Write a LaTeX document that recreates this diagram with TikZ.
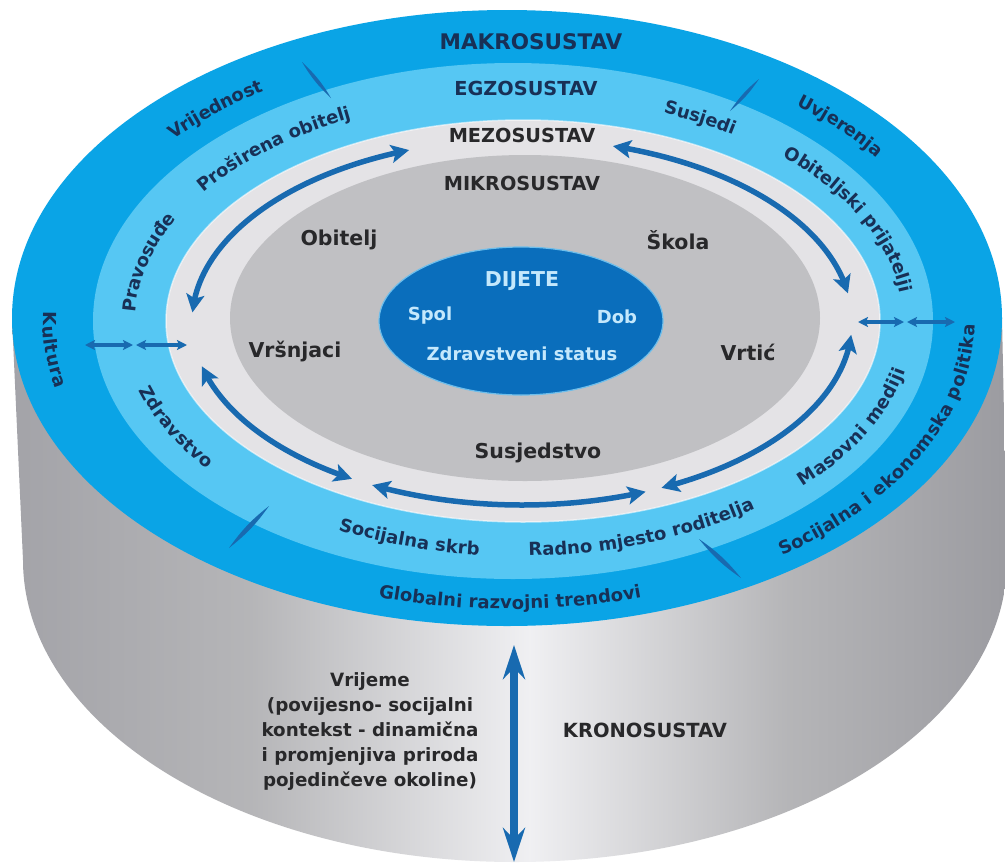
\documentclass[tikz,border=0pt]{standalone}
\usepackage{fontspec}
\setmainfont{DejaVu Sans}
\usetikzlibrary{arrows.meta,bending,decorations.text}

\definecolor{makro}{RGB}{10,164,230}
\definecolor{egzo}{RGB}{86,199,243}
\definecolor{mezo}{RGB}{228,227,230}
\definecolor{mikro}{RGB}{192,192,195}
\definecolor{dijete}{RGB}{10,110,188}
\definecolor{dijrim}{RGB}{110,190,235}
\definecolor{arrowc}{RGB}{24,106,176}
\definecolor{navy}{RGB}{24,48,86}
\definecolor{darktxt}{RGB}{40,40,42}
\definecolor{dijtxt}{RGB}{196,232,252}

\pgfdeclarehorizontalshading{cylshade}{100bp}{rgb(0bp)=(0.64,0.64,0.66); rgb(25bp)=(0.64,0.64,0.66); rgb(37bp)=(0.71,0.71,0.72); rgb(51bp)=(0.94,0.94,0.95); rgb(64bp)=(0.71,0.71,0.72); rgb(75bp)=(0.61,0.61,0.63); rgb(100bp)=(0.61,0.61,0.63)}

\newcommand\bandfont{\bfseries\fontsize{18}{21}\selectfont\color{navy}}

\begin{document}
\begin{tikzpicture}[x=1pt,y=-1pt,
  bigarr/.style={draw=arrowc, line width=5.5pt, {Stealth[length=18pt,width=18pt,inset=4pt]}-{Stealth[length=18pt,width=18pt,inset=4pt]}},
  spindle/.style={draw=arrowc, line width=3.5pt, {Stealth[length=10pt,width=10pt,inset=2pt]}-{Stealth[length=10pt,width=10pt,inset=2pt]}},
  leaf/.style={fill=arrowc},
  vertarr/.style={draw=arrowc, line width=8pt, {Stealth[length=34pt,width=22pt]}-{Stealth[length=34pt,width=22pt]}},
  bandtext/.style n args={2}{decorate, decoration={text along path, text align=center, raise=#2, text={|\bandfont|#1}}},
  head/.style={inner sep=0pt, anchor=center},
  mikrolab/.style={inner sep=0pt, anchor=center, text=darktxt, font=\bfseries\fontsize{20.5}{24}\selectfont},
  dijlab/.style={inner sep=0pt, anchor=center, text=dijtxt, font=\bfseries\fontsize{18}{22}\selectfont}
]
\useasboundingbox (0,0) rectangle (1005,863);
\clip (0,0) rectangle (1005,863);
\fill[white] (0,0) rectangle (1005,863);

% cylinder side
\shade[shading=cylshade] (12,318) -- (23,560) arc[start angle=180, end angle=360, x radius=492pt, y radius=302pt] -- (1002,318) -- cycle;

% rings
\fill[makro] (507,318) ellipse [x radius=495pt, y radius=308pt];
\fill[egzo] (513,321) ellipse [x radius=420pt, y radius=258pt];
\filldraw[fill=mezo, draw=white, draw opacity=0.55, line width=1.5pt] (523,321) ellipse [x radius=357pt, y radius=201pt];
\fill[mikro] (525,318) ellipse [x radius=295pt, y radius=163pt];
\filldraw[fill=dijete, draw=dijrim, line width=1.2pt] (521,321) ellipse [x radius=142pt, y radius=74pt];

% mezo arrows
\coordinate (Ac) at (522,322);
\path (Ac) ++(177:330pt and 183pt) coordinate (m1);
\path (Ac) ++(74:330pt and 183pt) coordinate (m2);
\path (Ac) ++(194:330pt and 183pt) coordinate (m3);
\path (Ac) ++(243:330pt and 183pt) coordinate (m4);
\path (Ac) ++(295:330pt and 183pt) coordinate (m5);
\draw[bigarr] (m1) arc[start angle=177, end angle=110, x radius=330pt, y radius=183pt];
\draw[bigarr] (m2) arc[start angle=74, end angle=9, x radius=330pt, y radius=183pt];
\draw[bigarr] (m3) arc[start angle=194, end angle=239, x radius=330pt, y radius=183pt];
\draw[bigarr] (m4) arc[start angle=243, end angle=292, x radius=330pt, y radius=183pt];
\draw[bigarr] (m5) arc[start angle=295, end angle=356, x radius=330pt, y radius=183pt];

% small crossing arrows
\coordinate (la1) at (85,345); \coordinate (la2) at (133,345);
\coordinate (la3) at (136,345); \coordinate (la4) at (187,345);
\draw[spindle] (la1) -- (la2);
\draw[spindle] (la3) -- (la4);
\coordinate (ra1) at (858,322); \coordinate (ra2) at (904,322);
\coordinate (ra3) at (907,322); \coordinate (ra4) at (955,322);
\draw[spindle] (ra1) -- (ra2);
\draw[spindle] (ra3) -- (ra4);
\coordinate (da1) at (302,62); \coordinate (da2) at (331,98);
\fill[leaf] (da1) to[bend left=8] (da2) to[bend left=8] (da1);
\coordinate (db1) at (759,79); \coordinate (db2) at (730,111);
\fill[leaf] (db1) to[bend left=8] (db2) to[bend left=8] (db1);
\coordinate (dc1) at (269,506); \coordinate (dc2) at (229,548);
\fill[leaf] (dc1) to[bend left=8] (dc2) to[bend left=8] (dc1);
\coordinate (dd1) at (699,539); \coordinate (dd2) at (741,578);
\fill[leaf] (dd1) to[bend left=8] (dd2) to[bend left=8] (dd1);

% vertical chrono arrow
\coordinate (kt) at (514,645); \coordinate (kb) at (514,862);
\draw[vertarr] (kt) -- (kb);

% headings
\node[head, text=navy, font=\bfseries\fontsize{21.5}{26}\selectfont] (hmakro) at (531,42) {MAKROSUSTAV};
\node[head, text=navy, font=\bfseries\fontsize{19.3}{23}\selectfont] (hegzo) at (526,88) {EGZOSUSTAV};
\node[head, text=darktxt, font=\bfseries\fontsize{19.3}{23}\selectfont] (hmezo) at (522,135) {MEZOSUSTAV};
\node[head, text=darktxt, font=\bfseries\fontsize{19.3}{23}\selectfont] (hmikro) at (522,183) {MIKROSUSTAV};

% makro band labels
\coordinate (Mc) at (510,320);
\path[bandtext={Vrijednost}{-9pt}] (Mc) ++(152:457pt and 283pt) arc[start angle=152, end angle=112, x radius=457pt, y radius=283pt];
\path[bandtext={Uvjerenja}{-5pt}] (Mc) ++(62:457pt and 283pt) arc[start angle=62, end angle=22, x radius=457pt, y radius=283pt];
\path[bandtext={Kultura}{-10pt}] (Mc) ++(168:457pt and 283pt) arc[start angle=168, end angle=203, x radius=457pt, y radius=283pt];
\path[bandtext={Socijalna i ekonomska politika}{-8pt}] (Mc) ++(-60:457pt and 283pt) arc[start angle=-60, end angle=8, x radius=457pt, y radius=283pt];
\path[bandtext={Globalni razvojni trendovi}{-6pt}] (Mc) ++(235:457pt and 283pt) arc[start angle=235, end angle=305, x radius=457pt, y radius=283pt];

% egzo band labels
\coordinate (Ec) at (518,321);
\path[bandtext={Proširena obitelj}{-5pt}] (Ec) ++(164:388pt and 230pt) arc[start angle=164, end angle=102, x radius=388pt, y radius=230pt];
\path[bandtext={Susjedi}{-5pt}] (Ec) ++(80:388pt and 230pt) arc[start angle=80, end angle=42, x radius=388pt, y radius=230pt];
\path[bandtext={Obiteljski prijatelji}{-3pt}] (Ec) ++(55:388pt and 230pt) arc[start angle=55, end angle=-5, x radius=388pt, y radius=230pt];
\path[bandtext={Pravosuđe}{-5pt}] (Ec) ++(186:388pt and 230pt) arc[start angle=186, end angle=146, x radius=388pt, y radius=230pt];
\path[bandtext={Zdravstvo}{-8pt}] (Ec) ++(186:388pt and 230pt) arc[start angle=186, end angle=226, x radius=388pt, y radius=230pt];
\path[bandtext={Masovni mediji}{-8pt}] (Ec) ++(-48:388pt and 230pt) arc[start angle=-48, end angle=-6, x radius=388pt, y radius=230pt];
\path[bandtext={Socijalna skrb}{-5pt}] (Ec) ++(233:388pt and 230pt) arc[start angle=233, end angle=273, x radius=388pt, y radius=230pt];
\path[bandtext={Radno mjesto roditelja}{-5pt}] (Ec) ++(-95:388pt and 230pt) arc[start angle=-95, end angle=-45, x radius=388pt, y radius=230pt];

% mikro labels
\node[mikrolab] (obitelj) at (339,240) {Obitelj};
\node[mikrolab] (skola) at (678,240) {Škola};
\node[mikrolab] (vrsnjaci) at (295,352) {Vršnjaci};
\node[mikrolab] (vrtic) at (748,352) {Vrtić};
\node[mikrolab] (susjedstvo) at (538,453) {Susjedstvo};

% child
\node[dijlab, font=\bfseries\fontsize{20.5}{24}\selectfont] (dij) at (522,281) {DIJETE};
\node[dijlab] (spol) at (430,316) {Spol};
\node[dijlab] (dob) at (617,317) {Dob};
\node[dijlab] (zdr) at (522,354) {Zdravstveni status};

% chronosystem
\node[inner sep=0pt, align=center, text=darktxt, font=\bfseries\fontsize{18.3}{25}\selectfont] (vrijeme) at (370,732) {Vrijeme\\(povijesno- socijalni\\kontekst - dinamična\\i promjenjiva priroda\\pojedinčeve okoline)};
\node[inner sep=0pt, text=darktxt, font=\bfseries\fontsize{19.5}{24}\selectfont] (krono) at (645,730) {KRONOSUSTAV};
\end{tikzpicture}
\end{document}
